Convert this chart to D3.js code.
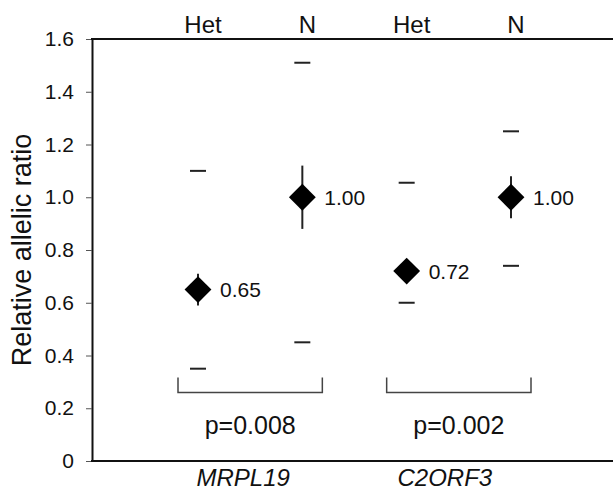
<!DOCTYPE html>
<html>
<head>
<meta charset="utf-8">
<script src="https://cdn.jsdelivr.net/npm/d3@7"></script>
<style>
  body { margin: 0; background: #fff; }
  text { font-family: "Liberation Sans", Arial, sans-serif; fill: #111; }
</style>
</head>
<body>
<div id="chart"></div>
<script>
////////////////////////////////////////////////////////////////////////
// Data
let genes = ["MRPL19", "C2ORF3"];
let pValues = ["p=0.008", "p=0.002"];
let groups = ["Het", "N", "Het", "N"];
let keys = ["MRPL19-Het", "MRPL19-N", "C2ORF3-Het", "C2ORF3-N"];
let means = [0.65, 1.00, 0.72, 1.00];
let meanLabels = ["0.65", "1.00", "0.72", "1.00"];
let errLow = [0.59, 0.88, 0.70, 0.92];
let errHigh = [0.71, 1.12, 0.74, 1.08];
let rangeLow = [0.35, 0.45, 0.60, 0.74];
let rangeHigh = [1.10, 1.51, 1.055, 1.25];
let yTicks = [0, 0.2, 0.4, 0.6, 0.8, 1.0, 1.2, 1.4, 1.6];
let yTickLabels = ["0", "0.2", "0.4", "0.6", "0.8", "1.0", "1.2", "1.4", "1.6"];

////////////////////////////////////////////////////////////////////////
// Canvas
let width = 613;
let height = 491;
let padLeft = 92, padTop = 39, padBottom = 461;

let svg = d3.select("#chart")
  .append("svg")
  .attr("width", width).attr("height", height);

let xScale = d3.scalePoint()
  .domain(keys)
  .range([198, 511]);

let yScale = d3.scaleLinear()
  .domain([0, 1.6])
  .range([padBottom, padTop]);

////////////////////////////////////////////////////////////////////////
// Axes and frame
let yAxis = d3.axisLeft(yScale)
  .tickValues(yTicks)
  .tickFormat((d, i) => yTickLabels[i])
  .tickSize(6)
  .tickSizeOuter(0)
  .tickPadding(12);

let gy = svg.append("g")
  .attr("transform", "translate(" + padLeft + ",0)")
  .call(yAxis);
gy.select(".domain").attr("stroke", "#111").attr("stroke-width", 2);
gy.selectAll(".tick line").attr("stroke", "#555").attr("stroke-width", 1);
gy.selectAll(".tick text")
  .attr("font-size", 21)
  .attr("font-family", "Liberation Sans, Arial, sans-serif")
  .attr("fill", "#111");

// top and bottom lines of the plot frame
svg.append("line")
  .attr("x1", padLeft - 1).attr("x2", width)
  .attr("y1", yScale(1.6)).attr("y2", yScale(1.6))
  .attr("stroke", "#111").attr("stroke-width", 2);
svg.append("line")
  .attr("x1", padLeft - 1).attr("x2", width)
  .attr("y1", yScale(0)).attr("y2", yScale(0))
  .attr("stroke", "#111").attr("stroke-width", 2);

svg.append("text")
  .attr("transform", "translate(31," + (padTop + padBottom) / 2 + ") rotate(-90)")
  .attr("text-anchor", "middle")
  .attr("font-size", 27)
  .text("Relative allelic ratio");

// group headers above the frame
svg.selectAll(".header")
  .data(groups)
  .enter()
  .append("text")
  .attr("class", "header")
  .attr("x", (d, i) => xScale(keys[i]) + 5)
  .attr("y", 33)
  .attr("text-anchor", "middle")
  .attr("font-size", 24)
  .text(d => d);

////////////////////////////////////////////////////////////////////////
// Range dashes, error bars, diamonds and value labels
let idx = d3.range(keys.length);

svg.selectAll(".rangeHi")
  .data(idx)
  .enter()
  .append("line")
  .attr("x1", i => xScale(keys[i]) - 8).attr("x2", i => xScale(keys[i]) + 8)
  .attr("y1", i => yScale(rangeHigh[i])).attr("y2", i => yScale(rangeHigh[i]))
  .attr("stroke", "#222").attr("stroke-width", 2);

svg.selectAll(".rangeLo")
  .data(idx)
  .enter()
  .append("line")
  .attr("x1", i => xScale(keys[i]) - 8).attr("x2", i => xScale(keys[i]) + 8)
  .attr("y1", i => yScale(rangeLow[i])).attr("y2", i => yScale(rangeLow[i]))
  .attr("stroke", "#222").attr("stroke-width", 2);

svg.selectAll(".errbar")
  .data(idx)
  .enter()
  .append("line")
  .attr("x1", i => xScale(keys[i])).attr("x2", i => xScale(keys[i]))
  .attr("y1", i => yScale(errLow[i])).attr("y2", i => yScale(errHigh[i]))
  .attr("stroke", "#222").attr("stroke-width", 2);

let diamond = d3.symbol().type(d3.symbolSquare).size(360);

svg.selectAll(".mean")
  .data(idx)
  .enter()
  .append("path")
  .attr("d", diamond)
  .attr("transform", i => "translate(" + xScale(keys[i]) + "," + yScale(means[i]) + ") rotate(45)")
  .attr("fill", "#000");

svg.selectAll(".meanLabel")
  .data(idx)
  .enter()
  .append("text")
  .attr("x", i => xScale(keys[i]) + 22)
  .attr("y", i => yScale(means[i]) + 7.5)
  .attr("font-size", 21)
  .text(i => meanLabels[i]);

////////////////////////////////////////////////////////////////////////
// Significance brackets, p-values and gene names
genes.forEach(function (g, j) {
  let x0 = xScale(keys[2 * j]) - 20;
  let x1 = xScale(keys[2 * j + 1]) + 20;
  let yb = yScale(0.26);
  svg.append("path")
    .attr("d", "M" + x0 + "," + (yb - 15) + "V" + yb + "H" + x1 + "V" + (yb - 15))
    .attr("fill", "none")
    .attr("stroke", "#444")
    .attr("stroke-width", 1.5);

  svg.append("text")
    .attr("x", (x0 + x1) / 2)
    .attr("y", 434)
    .attr("text-anchor", "middle")
    .attr("font-size", 25)
    .text(pValues[j]);

  svg.append("text")
    .attr("x", (x0 + x1) / 2 - (j == 0 ? 7 : 14))
    .attr("y", 486)
    .attr("text-anchor", "middle")
    .attr("font-size", 24)
    .attr("font-style", "italic")
    .text(g);
});
</script>
</body>
</html>
